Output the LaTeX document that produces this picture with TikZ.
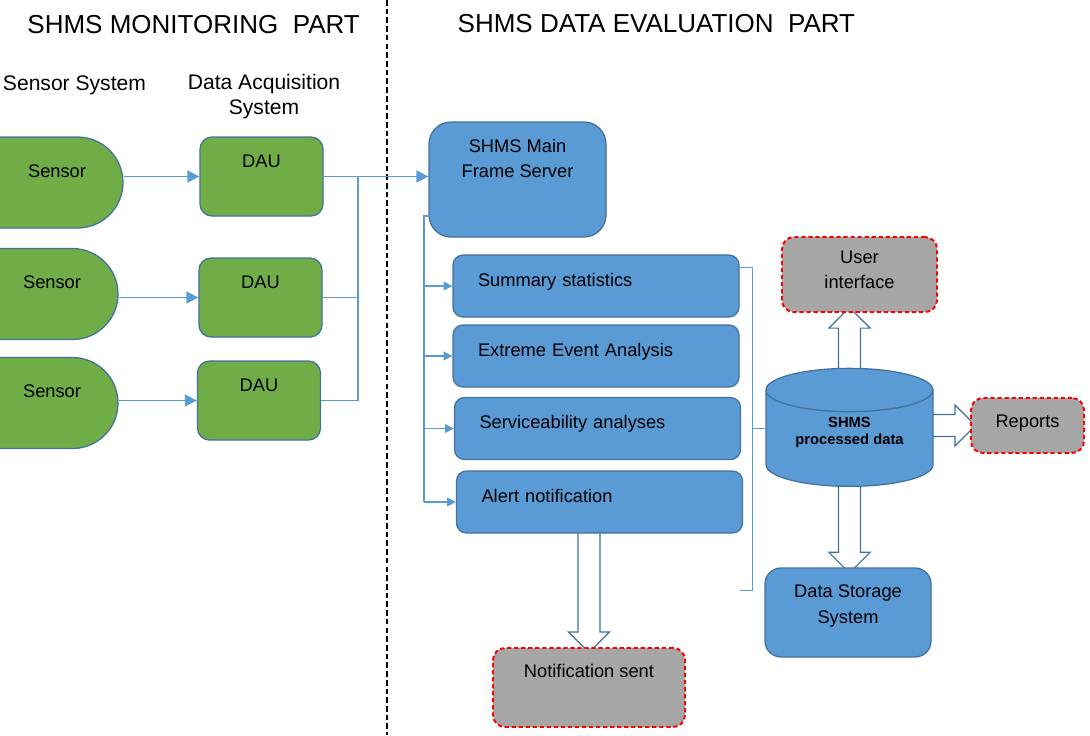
\documentclass[tikz,border=0pt]{standalone}
\usepackage{fontspec}
\setmainfont{Liberation Sans}
\usetikzlibrary{arrows.meta,calc,backgrounds,shapes.misc,shapes.geometric,shapes.arrows}
\definecolor{leafgreen}{HTML}{70AD47}
\definecolor{boxblue}{HTML}{5B9BD5}
\definecolor{edgeblue}{HTML}{41719C}
\definecolor{wireblue}{HTML}{5B9BD5}
\definecolor{notegray}{HTML}{A6A6A6}

\newcommand{\fatarrow}[2]{%
  \path let \p1=(#1), \p2=(#2), \n1={veclen(\x2-\x1,\y2-\y1)}, \n2={atan2(\y2-\y1,\x2-\x1)}
    in node[fat, minimum height=\n1, rotate=\n2] at ($(\p1)!0.5!(\p2)$) {};}

\begin{document}
\begin{tikzpicture}[every node/.style={font=\fontsize{13}{17.7}\selectfont},
    sensor/.style={rounded rectangle, rounded rectangle left arc=none, draw=edgeblue, fill=leafgreen, line width=0.9pt, minimum height=2.275cm, minimum width=3.45cm, inner xsep=-0.2125cm, inner ysep=0, text width=2.7375cm, align=right, text height=1cm, text depth=1.275cm},
    dau/.style={rectangle, rounded corners=0.3cm, draw=edgeblue, fill=leafgreen, line width=0.9pt, minimum width=3.075cm, inner sep=0, text height=0.75cm, text depth=1.225cm},
    bluebox/.style={rectangle, draw=edgeblue, fill=boxblue, line width=0.9pt, inner sep=0, align=center},
    anbox/.style={rectangle, rounded corners=0.25cm, draw=edgeblue, fill=boxblue, line width=0.9pt, inner xsep=0.625cm, inner ysep=0, text width=5.9cm, align=left, text height=0.775cm, text depth=0.775cm},
    notebox/.style={rectangle, rounded corners=0.3cm, draw=red, dash pattern=on 3pt off 2pt, fill=notegray, line width=1.4pt, inner sep=0, align=center},
    fat/.style={single arrow, draw=edgeblue, fill=white, line width=0.8pt, inner sep=0.26cm, single arrow head extend=0.24cm, minimum width=1cm, single arrow tip angle=90, anchor=center},
    wire/.style={draw=wireblue, line width=1.2pt},
    heading/.style={font=\fontsize{15}{17.8}\selectfont, align=center}]
    \useasboundingbox (0,0) rectangle (27.25,-18.375);

    \node[font=\fontsize{18.5}{22}\selectfont] (t1) at (4.84,-0.625) {SHMS MONITORING\ \ PART};
    \node[font=\fontsize{18.5}{22}\selectfont] (t2) at (16.41,-0.6) {SHMS DATA EVALUATION\ \ PART};
    \draw[black, line width=1pt, dash pattern=on 4pt off 2.2pt] (9.675,0) -- (9.675,-18.375);

    \node[heading, anchor=west] (h1) at (-0.05,-2.125) {Sensor System};
    \node[heading] (h2) at (6.6,-2.425) {Data Acquisition\\System};

    \node[sensor] (s1) at (0.78125,-4.5625) {Sensor};
    \node[sensor] (s2) at (0.65625,-7.35) {Sensor};
    \node[sensor] (s3) at (0.65625,-10.075) {Sensor};

    \node[dau] (d1) at (6.5375,-4.4125) {DAU};
    \node[dau] (d2) at (6.5125,-7.4375) {DAU};
    \node[dau] (d3) at (6.475,-10.0125) {DAU};

    \node[bluebox, rounded corners=0.55cm, minimum width=4.425cm, text height=1.375cm, text depth=1.5cm] (srv) at (12.9375,-4.4875) {SHMS Main\\Frame Server};

    \node[anbox] (a1) at (14.9,-7.15) {Summary statistics};
    \node[anbox] (a2) at (14.9,-8.9) {Extreme Event Analysis};
    \node[anbox] (a3) at (14.9375,-10.7125) {Serviceability analyses};
    \node[anbox] (a4) at (14.9875,-12.55) {Alert notification};

    \node[cylinder, shape border rotate=90, aspect=0.4, draw=edgeblue, fill=boxblue, line width=0.9pt, minimum width=4.175cm, minimum height=2.95cm, inner sep=0, align=center, text height=20pt, text depth=12pt, font=\bfseries\fontsize{10.5}{11.5}\selectfont] (db) at (21.2375,-10.9625) {SHMS\\processed data};

    \node[notebox, minimum width=3.875cm, text height=1.275cm, text depth=0.6cm] (ui) at (21.4875,-6.8625) {User\\interface};
    \node[notebox, minimum width=2.825cm, text height=0.725cm, text depth=0.65cm] (rep) at (25.6875,-10.6375) {Reports};
    \node[bluebox, rounded corners=0.4cm, minimum width=4.15cm, text height=1.375cm, text depth=0.85cm, font=\fontsize{13}{18.5}\selectfont] (ds) at (21.2,-15.3125) {Data Storage\\System};
    \node[notebox, minimum width=4.8cm, text height=0.725cm, text depth=1.25cm] (ns) at (14.725,-17.1875) {Notification sent};

    \draw[wire, -{Triangle[length=3mm,width=3mm]}] (s1.east |- d1.west) -- (d1.west);
    \draw[wire, -{Triangle[length=3mm,width=3mm]}] (s2.east |- d2.west) -- (d2.west);
    \draw[wire, -{Triangle[length=3mm,width=3mm]}] (s3.east |- d3.west) -- (d3.west);

    \coordinate (hub) at (8.95,-4.4125);
    \draw[wire, -{Triangle[length=3mm,width=3mm]}] (d1.east) -- (d1.east -| srv.west);
    \draw[wire] (d2.east) -| (hub);
    \draw[wire] (d3.east) -| (hub);

    \coordinate (bus) at (10.6,-5.4);
    \draw[wire, line width=0.8pt] (srv.west |- bus) -- (bus) -- (bus |- a4.west);
    \foreach \n in {a1,a2,a3,a4}
        \draw[wire, line width=0.8pt, -{Triangle[length=2.2mm,width=2.2mm]}] (bus |- \n.west) -- (\n.west);

    \coordinate (brtop) at (18.8,-6.675);
    \coordinate (brbot) at (18.8,-14.75);
    \draw[wire, line width=0.6pt] (a1.east |- brtop) -- (brtop) -- (brbot) -- (a1.east |- brbot);
    \draw[wire, line width=0.6pt] (db.west |- a3.east) -- (brtop |- a3.east);

    \begin{scope}[on background layer]
        \fatarrow{$(db.north)+(0,-0.2)$}{ui.south -| db.north}
        \fatarrow{$(db.east |- rep.west)+(-0.2,0)$}{rep.west}
        \fatarrow{$(db.south)+(0,0.2)$}{ds.north -| db.south}
        \fatarrow{$(ns.north |- a4.south)+(0,0.2)$}{ns.north}
    \end{scope}
\end{tikzpicture}
\end{document}
